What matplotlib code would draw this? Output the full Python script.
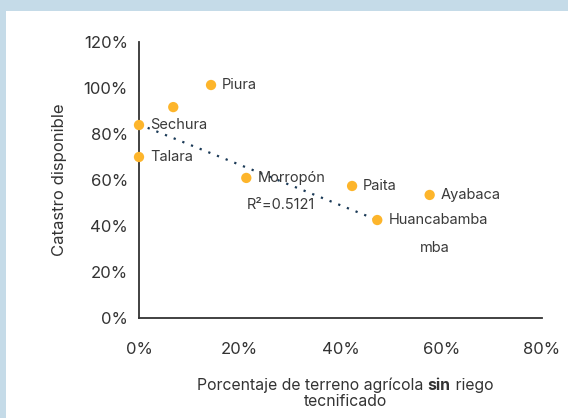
import matplotlib
matplotlib.use("Agg")
import matplotlib.pyplot as plt
from matplotlib.patches import Rectangle
from matplotlib.offsetbox import TextArea, HPacker, VPacker, AnnotationBbox
from matplotlib.ticker import FuncFormatter

plt.rcParams['font.family'] = ['Inter', 'DejaVu Sans']

# Data (percentages)
provinces = ["Piura", "", "Sechura", "Talara", "Morropón", "Paita", "Ayabaca", "Huancabamba"]
x_sin_riego = [14.3, 6.8, 0.0, 0.0, 21.3, 42.3, 57.7, 47.3]
y_catastro = [101.3, 91.7, 83.9, 70.0, 60.9, 57.4, 53.5, 42.6]
trend_x = [0.0, 47.3]
trend_y = [84.2, 42.6]
r2_text = "R²=0.5121"
x_ticks = [0, 20, 40, 60, 80]
y_ticks = [0, 20, 40, 60, 80, 100, 120]

W, H = 568, 418
fig = plt.figure(figsize=(W / 100, H / 100), dpi=100)
fig.patch.set_facecolor("#c5dbe8")
fig.patches.append(Rectangle((6 / W, 0), 1 - 6 / W, 1 - 11 / H, transform=fig.transFigure,
                             facecolor="white", edgecolor="none", zorder=-10))

ax = fig.add_axes([139 / W, 1 - 318 / H, (542 - 139) / W, (318 - 42) / H])
ax.set_facecolor("none")
ax.set_zorder(1)
ax.set_xlim(0, 80)
ax.set_ylim(0, 120)

ax.plot(trend_x, trend_y, linestyle=(0, (1, 3.2)), color="#1b3a57", lw=1.6, zorder=2)
ax.scatter(x_sin_riego, y_catastro, s=55, color="#fdb52b", edgecolor="none", zorder=3, clip_on=False)

lbl = dict(fontsize=10.5, color="#3a3a3a")
for name, xv, yv in zip(provinces, x_sin_riego, y_catastro):
    if name:
        ax.annotate(name, (xv, yv), xytext=(8, 0), textcoords="offset points",
                    va="center", ha="left", zorder=4, **lbl)

ax.text(28.2, 49.0, r2_text, va="center", ha="center", **lbl)
ax.annotate("mba", (47.3, 42.6), xytext=(31, -20), textcoords="offset points",
            va="center", ha="left", **lbl)

for s in ["top", "right"]:
    ax.spines[s].set_visible(False)
for s in ["left", "bottom"]:
    ax.spines[s].set_color("#333333")
    ax.spines[s].set_linewidth(1.3)

ax.set_xticks(x_ticks)
ax.set_yticks(y_ticks)
fmt = FuncFormatter(lambda v, p: f"{v:.0f}%")
ax.xaxis.set_major_formatter(fmt)
ax.yaxis.set_major_formatter(fmt)
ax.tick_params(axis="both", length=0, labelsize=12, labelcolor="#333333")
ax.tick_params(axis="x", pad=17)
ax.tick_params(axis="y", pad=8)

ax.set_ylabel("Catastro disponible", fontsize=12, color="#333333", labelpad=12)

tp = dict(fontsize=11.4, color="#333333")
line1 = HPacker(children=[
    TextArea("Porcentaje de terreno agrícola ", textprops=tp),
    TextArea("sin", textprops=dict(tp, fontweight="bold")),
    TextArea(" riego", textprops=tp),
], align="baseline", pad=0, sep=0)
line2 = TextArea("tecnificado", textprops=tp)
box = VPacker(children=[line1, line2], align="center", pad=0, sep=1)
ab = AnnotationBbox(box, (345 / W, 1 - 393 / H), xycoords="figure fraction",
                    frameon=False, box_alignment=(0.5, 0.5))
fig.add_artist(ab)

fig.savefig("out.png", dpi=100, facecolor=fig.get_facecolor())
